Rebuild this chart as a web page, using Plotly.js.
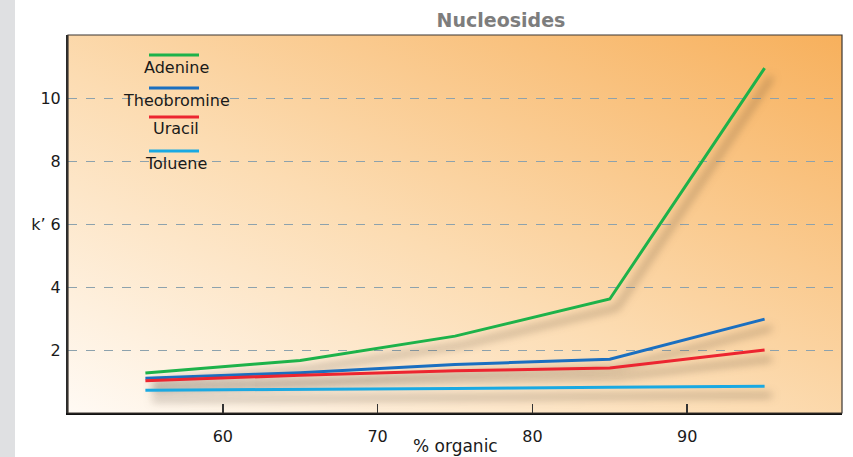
<!DOCTYPE html>
<html><head><meta charset="utf-8">
<script src="https://cdn.plot.ly/plotly-3.0.1.min.js"></script>
<style>
html,body{margin:0;padding:0;background:#fff;}
#strip{position:absolute;left:0;top:0;width:15px;height:457px;background:#dfe0e2;}
#chart{position:absolute;left:0;top:0;width:853px;height:457px;}
#chart .scatterlayer path.js-line{filter:drop-shadow(7px 9px 4px rgba(70,55,40,0.55));}
</style></head>
<body><div id="strip"></div><div id="chart"></div>
<script>
const organic = [55, 65, 75, 85, 95];
const adenine = [1.27, 1.67, 2.44, 3.62, 10.95];
const theobromine = [1.10, 1.28, 1.54, 1.71, 2.98];
const uracil = [1.02, 1.20, 1.34, 1.43, 2.00];
const toluene = [0.72, 0.74, 0.78, 0.82, 0.85];
const seriesNames = ['Adenine', 'Theobromine', 'Uracil', 'Toluene'];
const seriesData = [adenine, theobromine, uracil, toluene];
const seriesColors = ['#1db24a', '#1b6fc0', '#ec2530', '#1aa9e2'];
const yTickVals = [2, 4, 6, 8, 10];
const yTickText = ['2', '4', 'k\u2019 6', '8', '10'];
const xTickVals = [60, 70, 80, 90];

const FONT = 'DejaVu Sans, Arial, sans-serif';
const traces = seriesNames.map((n, i) => ({
  x: organic, y: seriesData[i], name: n, type: 'scatter', mode: 'lines',
  line: {color: seriesColors[i], width: 3}, showlegend: false, hoverinfo: 'skip'
}));

const gradSvg = '<svg xmlns="http://www.w3.org/2000/svg" width="200" height="100" preserveAspectRatio="none">' +
  '<defs><linearGradient id="g" x1="0" y1="1" x2="1" y2="0">' +
  '<stop offset="0" stop-color="#fffaf4"/><stop offset="0.45" stop-color="#fcdcb2"/>' +
  '<stop offset="1" stop-color="#f7b05c"/></linearGradient></defs>' +
  '<rect width="200" height="100" fill="url(#g)"/></svg>';
const gradUrl = 'data:image/svg+xml;charset=utf-8,' + encodeURIComponent(gradSvg);

const legTop = [55, 88, 117, 151];
const plotTop = 35, plotH = 378, plotL = 68, plotW = 774;
const shapes = [];
const annotations = [];
seriesNames.forEach((n, i) => {
  const yl = 1 - (legTop[i] - plotTop) / plotH;
  shapes.push({type: 'line', xref: 'paper', yref: 'paper',
    x0: (149 - plotL) / plotW, x1: (199 - plotL) / plotW, y0: yl, y1: yl,
    line: {color: seriesColors[i], width: 3}});
  annotations.push({xref: 'paper', yref: 'paper', x: (176 - plotL) / plotW,
    y: 1 - (legTop[i] + 12 - plotTop) / plotH, text: n, showarrow: false,
    xanchor: 'center', yanchor: 'middle',
    font: {family: FONT, size: 16, color: '#1a1a1a'}});
});
shapes.push({type: 'rect', xref: 'paper', yref: 'paper', x0: 0, x1: 1, y0: 0, y1: 1,
  line: {color: '#3b3530', width: 1.2}, fillcolor: 'rgba(0,0,0,0)'});
annotations.push({xref: 'paper', yref: 'paper', x: 0.5, y: (413 - 446) / plotH,
  text: '% organic', showarrow: false, xanchor: 'center', yanchor: 'middle',
  font: {family: FONT, size: 17, color: '#1a1a1a'}});

const layout = {
  width: 853, height: 457,
  margin: {l: 68, r: 11, t: 35, b: 44},
  paper_bgcolor: 'rgba(0,0,0,0)', plot_bgcolor: 'rgba(0,0,0,0)',
  font: {family: FONT, size: 16, color: '#1a1a1a'},
  title: {text: '<b>Nucleosides</b>', x: (501 - plotL) / plotW, xref: 'paper', xanchor: 'center',
    y: 1 - 20 / 457, yref: 'container', yanchor: 'middle',
    font: {family: FONT, size: 19, color: '#7d7d7d'}},
  xaxis: {range: [50, 100], tickvals: xTickVals, ticks: 'inside', ticklen: 9, tickwidth: 1.5,
    tickcolor: '#333', showgrid: false, zeroline: false, showline: true, linecolor: '#111',
    linewidth: 2, ticklabelstandoff: 8, tickfont: {size: 16}},
  yaxis: {range: [0, 12], tickvals: yTickVals, ticktext: yTickText, ticks: '',
    showgrid: true, gridcolor: '#8da2ad', griddash: 'dash', gridwidth: 1,
    zeroline: false, showline: true, linecolor: '#2a2a2a', linewidth: 2,
    ticklabelstandoff: 2, tickfont: {size: 16}},
  images: [{source: gradUrl, xref: 'paper', yref: 'paper', x: 0, y: 1, sizex: 1, sizey: 1,
    sizing: 'stretch', xanchor: 'left', yanchor: 'top', layer: 'below'}],
  shapes: shapes, annotations: annotations
};
Plotly.newPlot('chart', traces, layout, {staticPlot: true});
</script></body></html>
